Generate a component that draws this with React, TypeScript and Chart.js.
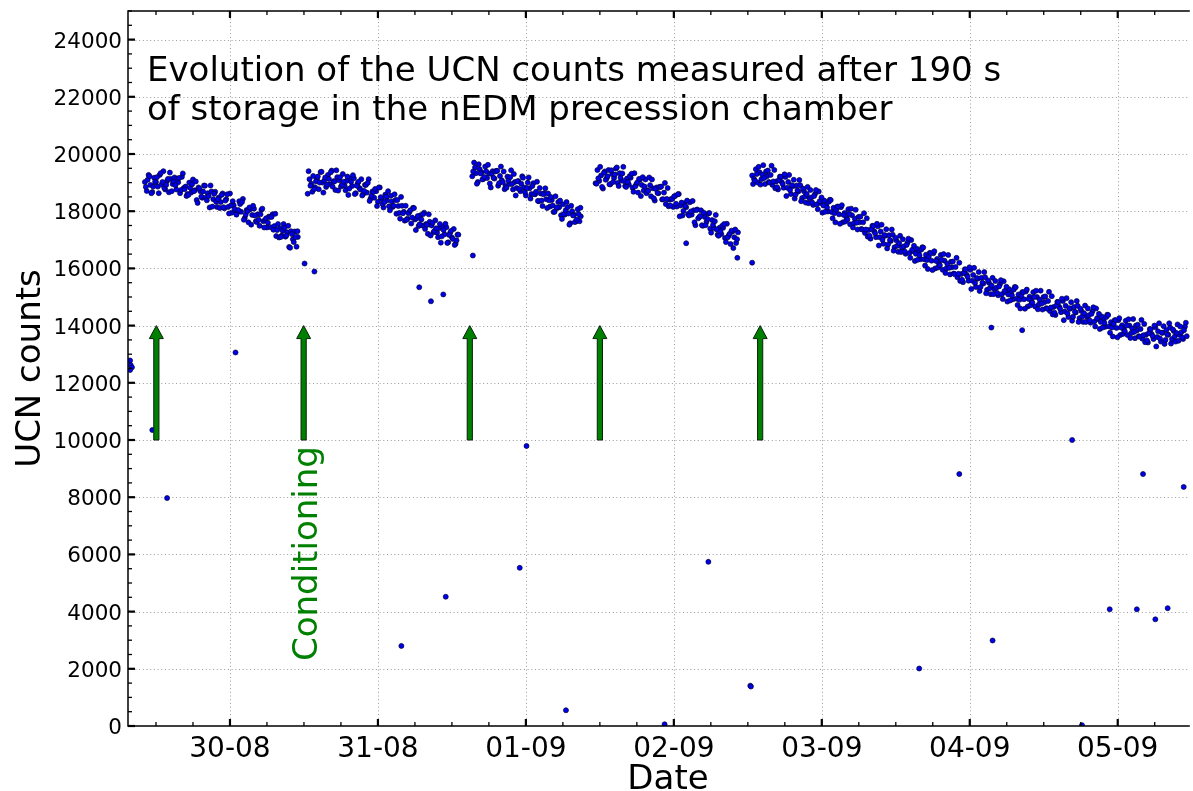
import React, { useEffect, useRef } from "react";
import { Chart, registerables } from "chart.js";

Chart.register(...registerables);

// x values are hours since 29-08 00:00
const X_MIN = 7.46;
const X_MAX = 179.69;
const Y_MIN = 0;
const Y_MAX = 25000;

const dayTickHours = [24, 48, 72, 96, 120, 144, 168];
const dayTickLabels = ["30-08", "31-08", "01-09", "02-09", "03-09", "04-09", "05-09"];
const countTicks = [0, 2000, 4000, 6000, 8000, 10000, 12000, 14000, 16000, 18000, 20000, 22000, 24000];

const arrowHours = [12.06, 35.95, 62.9, 84.0, 110.0];
const arrowFromCounts = 10000;
const arrowToCounts = 14000;

const titleLines = [
  "Evolution of the UCN counts measured after 190 s",
  "of storage in the nEDM precession chamber",
];
const xTitle = "Date";
const yTitle = "UCN counts";
const noteText = "Conditioning";
const noteHours = 35.95;

const seg1: number[][] = [
  [10.2, 19020], [10.5, 18710], [10.8, 19270], [11.1, 18920], [11.4, 18670], [11.7, 19170], [12.0, 19020], [12.3, 18860],
  [12.6, 19270], [12.9, 18930], [13.2, 19400], [13.5, 18760], [13.8, 19060], [14.1, 18660], [14.4, 19130], [14.7, 18950],
  [15.0, 19180], [15.3, 18760], [15.6, 19010], [15.9, 18630], [16.2, 19200], [16.5, 18810], [16.8, 18860], [17.1, 18600],
  [17.4, 19000], [17.7, 18650], [18.0, 19110], [18.3, 18730], [18.6, 18390], [18.9, 18830], [19.2, 18700], [19.5, 18470],
  [19.8, 18900], [20.1, 18480], [20.4, 18630], [20.7, 18130], [21.0, 18690], [21.3, 18420], [21.6, 18680], [21.9, 18150],
  [22.2, 18480], [22.5, 18320], [22.8, 18620], [23.1, 18100], [23.4, 18420], [23.7, 18150], [24.0, 18620], [24.3, 17950],
  [24.6, 18210], [24.9, 18000], [25.2, 17960], [25.5, 18350], [25.8, 17980], [26.1, 18430], [26.4, 17760], [26.7, 18040],
  [27.0, 17610], [27.3, 18070], [27.6, 17870], [27.9, 18090], [28.2, 17650], [28.5, 17890], [28.8, 17490], [29.1, 18050],
  [29.4, 17650], [29.7, 17690], [30.0, 17430], [30.3, 17810], [30.6, 17440], [30.9, 17890], [31.2, 17480], [31.5, 17130],
  [31.8, 17550], [32.1, 17400], [32.4, 17150], [32.7, 17550], [33.0, 17110], [33.3, 17260], [33.6, 16750], [33.9, 17300],
  [34.2, 17020], [34.5, 17290], [34.8, 16760], [35.0, 17100],
];
const seg1b: number[][] = [
  [10.35, 18850], [10.65, 19100], [10.95, 19220], [11.25, 18630], [11.55, 18860], [11.85, 19030], [12.15, 19190], [12.45, 18630],
  [12.75, 19330], [13.05, 19020], [13.35, 18810], [13.65, 18920], [13.95, 19130], [14.25, 19350], [14.55, 18700], [14.85, 19040],
  [15.15, 18910], [15.45, 19140], [15.75, 19160], [16.05, 18740], [16.35, 19320], [16.65, 18770], [16.95, 18530], [17.25, 18570],
  [17.55, 18820], [17.85, 18940], [18.15, 18700], [18.45, 19040], [18.75, 18290], [19.05, 18790], [19.35, 18510], [19.65, 18690],
  [19.95, 18890], [20.25, 18380], [20.55, 18530], [20.85, 18900], [21.15, 18160], [21.45, 18610], [21.75, 18330], [22.05, 18420],
  [22.35, 18110], [22.65, 18570], [22.95, 18140], [23.25, 18370], [23.55, 18590], [23.85, 17920], [24.15, 18200], [24.45, 18350],
  [24.75, 18080], [25.05, 17880], [25.35, 18040], [25.65, 18250], [25.95, 18320], [26.25, 17700], [26.55, 17880], [26.85, 18000],
  [27.15, 18130], [27.45, 17530], [27.75, 18190], [28.05, 17850], [28.35, 17620], [28.65, 17700], [28.95, 17890], [29.25, 18090],
  [29.55, 17430], [29.85, 17750], [30.15, 17600], [30.45, 17800], [30.75, 17800], [31.05, 17350], [31.35, 17910], [31.65, 17340],
  [31.95, 17080], [32.25, 17100], [32.55, 17320], [32.85, 17420], [33.15, 17150], [33.45, 17490], [33.75, 16720], [34.05, 17200],
  [34.35, 16920], [34.65, 17100], [34.95, 17300],
];

const seg2: number[][] = [
  [36.6, 18610], [36.9, 19120], [37.2, 18960], [37.5, 19230], [37.8, 18840], [38.1, 19120], [38.4, 18770], [38.7, 19370],
  [39.0, 19000], [39.3, 19070], [39.6, 18850], [39.9, 19270], [40.2, 18940], [40.5, 19420], [40.8, 19050], [41.1, 18740],
  [41.4, 19190], [41.7, 19080], [42.0, 18860], [42.3, 19300], [42.6, 18890], [42.9, 19060], [43.2, 18570], [43.5, 19140],
  [43.8, 18880], [44.1, 19150], [44.4, 18630], [44.7, 18970], [45.0, 18810], [45.3, 19120], [45.6, 18600], [45.9, 18920],
  [46.2, 18650], [46.5, 19120], [46.8, 18440], [47.1, 18690], [47.4, 18470], [47.7, 18700], [48.0, 18330], [48.3, 18830],
  [48.6, 18430], [48.9, 18130], [49.2, 18580], [49.5, 18380], [49.8, 18170], [50.1, 18540], [50.4, 18150], [50.7, 18590],
  [51.0, 17910], [51.3, 18180], [51.6, 17740], [51.9, 18190], [52.2, 17980], [52.5, 18190], [52.8, 17740], [53.1, 17970],
  [53.4, 17570], [53.7, 18120], [54.0, 17710], [54.3, 17750], [54.6, 17480], [54.9, 17860], [55.2, 17500], [55.5, 17950],
  [55.8, 17550], [56.1, 17210], [56.4, 17630], [56.7, 17500], [57.0, 17260], [57.3, 17680], [57.6, 17250], [57.9, 17400],
  [58.2, 16900], [58.5, 17460], [58.8, 17190], [59.1, 17440], [59.4, 16910], [59.7, 17240], [60.0, 17080], [60.3, 17380],
  [60.6, 16860], [60.9, 17180],
];
const seg2b: number[][] = [
  [36.75, 19400], [37.05, 18890], [37.35, 18680], [37.65, 18770], [37.95, 19050], [38.25, 19210], [38.55, 19000], [38.85, 19380],
  [39.15, 18650], [39.45, 19180], [39.75, 18930], [40.05, 19130], [40.35, 19360], [40.65, 18860], [40.95, 19040], [41.25, 19430],
  [41.55, 18720], [41.85, 19190], [42.15, 18920], [42.45, 19030], [42.75, 18730], [43.05, 19210], [43.35, 18790], [43.65, 19030],
  [43.95, 19260], [44.25, 18600], [44.55, 18890], [44.85, 19030], [45.15, 18760], [45.45, 18550], [45.75, 18710], [46.05, 18920],
  [46.35, 18990], [46.65, 18360], [46.95, 18540], [47.25, 18670], [47.55, 18780], [47.85, 18180], [48.15, 18830], [48.45, 18490],
  [48.75, 18250], [49.05, 18320], [49.35, 18510], [49.65, 18700], [49.95, 18030], [50.25, 18340], [50.55, 18190], [50.85, 18390],
  [51.15, 18390], [51.45, 17940], [51.75, 18500], [52.05, 17930], [52.35, 17670], [52.65, 17700], [52.95, 17930], [53.25, 18030],
  [53.55, 17780], [53.85, 18110], [54.15, 17340], [54.45, 17830], [54.75, 17540], [55.05, 17710], [55.35, 17900], [55.65, 17380],
  [55.95, 17520], [56.25, 17890], [56.55, 17150], [56.85, 17590], [57.15, 17310], [57.45, 17400], [57.75, 17090], [58.05, 17550],
  [58.35, 17120], [58.65, 17340], [58.95, 17560], [59.25, 16890], [59.55, 17170], [59.85, 17310], [60.15, 17030], [60.45, 16820],
  [60.75, 16980], [61.05, 17180],
];

const seg3: number[][] = [
  [63.3, 19220], [63.6, 19700], [63.9, 19330], [64.2, 19020], [64.5, 19470], [64.8, 19360], [65.1, 19130], [65.4, 19560],
  [65.7, 19160], [66.0, 19320], [66.3, 18830], [66.6, 19400], [66.9, 19140], [67.2, 19410], [67.5, 18890], [67.8, 19230],
  [68.1, 19080], [68.4, 19390], [68.7, 18880], [69.0, 19210], [69.3, 18950], [69.6, 19430], [69.9, 18760], [70.2, 19020],
  [70.5, 18810], [70.8, 19050], [71.1, 18700], [71.4, 19220], [71.7, 18830], [72.0, 18550], [72.3, 19000], [72.6, 18800],
  [72.9, 18600], [73.2, 18980], [73.5, 18590], [73.8, 19030], [74.1, 18350], [74.4, 18620], [74.7, 18180], [75.0, 18630],
  [75.3, 18420], [75.6, 18620], [75.9, 18160], [76.2, 18390], [76.5, 17970], [76.8, 18520], [77.1, 18110], [77.4, 18140],
  [77.7, 17860], [78.0, 18240], [78.3, 17880], [78.6, 18320], [78.9, 17920], [79.2, 17580], [79.5, 18000], [79.8, 17880],
  [80.1, 17640], [80.4, 18070], [80.7, 17650], [80.9, 17820],
];
const seg3b: number[][] = [
  [63.45, 19390], [63.75, 19530], [64.05, 18960], [64.35, 19640], [64.65, 19320], [64.95, 19110], [65.25, 19200], [65.55, 19400],
  [65.85, 19620], [66.15, 18970], [66.45, 19300], [66.75, 19170], [67.05, 19390], [67.35, 19410], [67.65, 18980], [67.95, 19560],
  [68.25, 19010], [68.55, 18770], [68.85, 18820], [69.15, 19070], [69.45, 19190], [69.75, 18950], [70.05, 19300], [70.35, 18550],
  [70.65, 19050], [70.95, 18780], [71.25, 18960], [71.55, 19170], [71.85, 18660], [72.15, 18810], [72.45, 19180], [72.75, 18440],
  [73.05, 18880], [73.35, 18600], [73.65, 18680], [73.95, 18360], [74.25, 18810], [74.55, 18370], [74.85, 18590], [75.15, 18800],
  [75.45, 18110], [75.75, 18380], [76.05, 18500], [76.35, 18200], [76.65, 17980], [76.95, 18130], [77.25, 18320], [77.55, 18370],
  [77.85, 17730], [78.15, 17900], [78.45, 18030], [78.75, 18140], [79.05, 17530], [79.35, 18190], [79.65, 17850], [79.95, 17620],
  [80.25, 17710], [80.55, 17900], [80.85, 18120],
];

const seg4: number[][] = [
  [83.3, 18980], [83.6, 19440], [83.9, 19060], [84.2, 19250], [84.5, 18790], [84.8, 19390], [85.1, 19150], [85.4, 19440],
  [85.7, 18940], [86.0, 19300], [86.3, 19160], [86.6, 19490], [86.9, 18990], [87.2, 19330], [87.5, 19070], [87.8, 19550],
  [88.1, 18880], [88.4, 19140], [88.7, 18930], [89.0, 19170], [89.3, 18820], [89.6, 19330], [89.9, 18940], [90.2, 18650],
  [90.5, 19100], [90.8, 18920], [91.1, 18720], [91.4, 19110], [91.7, 18730], [92.0, 19180], [92.3, 18520], [92.6, 18800],
  [92.9, 18370], [93.2, 18830], [93.5, 18630], [93.8, 18850], [94.1, 18410], [94.4, 18650], [94.7, 18250], [95.0, 18810],
  [95.3, 18400], [95.6, 18430], [95.9, 18150], [96.2, 18530], [96.5, 18160], [96.8, 18600], [97.1, 18200], [97.4, 17850],
  [97.7, 18280], [98.0, 18140], [98.3, 17900], [98.6, 18310], [98.9, 17880], [99.2, 18030], [99.5, 17510], [99.8, 18060],
  [100.1, 17780], [100.4, 18030], [100.7, 17490], [101.0, 17800], [101.3, 17630], [101.6, 17920], [101.9, 17390], [102.2, 17690],
  [102.5, 17410], [102.8, 17870], [103.1, 17180], [103.4, 17420], [103.7, 17200], [104.0, 17420], [104.3, 17060], [104.6, 17560],
  [104.9, 17150], [105.2, 16850], [105.5, 17290], [105.8, 17090], [106.1, 16890], [106.4, 17260],
];
const seg4b: number[][] = [
  [83.45, 18960], [83.75, 19150], [84.05, 19550], [84.35, 18850], [84.65, 19340], [84.95, 19100], [85.25, 19220], [85.55, 18940],
  [85.85, 19430], [86.15, 19020], [86.45, 19280], [86.75, 19530], [87.05, 18880], [87.35, 19170], [87.65, 19320], [87.95, 19050],
  [88.25, 18850], [88.55, 19020], [88.85, 19230], [89.15, 19310], [89.45, 18680], [89.75, 18870], [90.05, 19000], [90.35, 19130],
  [90.65, 18530], [90.95, 19190], [91.25, 18860], [91.55, 18630], [91.85, 18710], [92.15, 18910], [92.45, 19110], [92.75, 18450],
  [93.05, 18780], [93.35, 18640], [93.65, 18850], [93.95, 18860], [94.25, 18420], [94.55, 18990], [94.85, 18430], [95.15, 18170],
  [95.45, 18200], [95.75, 18430], [96.05, 18520], [96.35, 18260], [96.65, 18590], [96.95, 17820], [97.25, 18300], [97.55, 18010],
  [97.85, 18180], [98.15, 18370], [98.45, 17850], [98.75, 17990], [99.05, 18360], [99.35, 17610], [99.65, 18040], [99.95, 17750],
  [100.25, 17830], [100.55, 17510], [100.85, 17950], [101.15, 17510], [101.45, 17730], [101.75, 17940], [102.05, 17250], [102.35, 17520],
  [102.65, 17650], [102.95, 17360], [103.25, 17140], [103.55, 17290], [103.85, 17490], [104.15, 17550], [104.45, 16920], [104.75, 17090],
  [105.05, 17210], [105.35, 17320], [105.65, 16710], [105.95, 17360], [106.25, 17020],
];

const seg5: number[][] = [
  [108.7, 19250], [109.0, 19130], [109.3, 19470], [109.6, 19000], [109.9, 19360], [110.2, 19120], [110.5, 19610], [110.8, 18950],
  [111.1, 19220], [111.4, 19020], [111.7, 19270], [112.0, 18920], [112.3, 19440], [112.6, 19040], [112.9, 18760], [113.2, 19210],
  [113.5, 19020], [113.8, 18820], [114.1, 19200], [114.4, 18820], [114.7, 19270], [115.0, 18600], [115.3, 18870], [115.6, 18440],
  [115.9, 18900], [116.2, 18690], [116.5, 18910], [116.8, 18460], [117.1, 18700], [117.4, 18300], [117.7, 18850], [118.0, 18450],
  [118.3, 18480], [118.6, 18220], [118.9, 18600], [119.2, 18240], [119.5, 18690], [119.8, 18290], [120.1, 17950], [120.4, 18370],
  [120.7, 18230], [121.0, 17990], [121.3, 18400], [121.6, 17970], [121.9, 18120], [122.2, 17610], [122.5, 18160], [122.8, 17890],
  [123.1, 18140], [123.4, 17610], [123.7, 17940], [124.0, 17770], [124.3, 18070], [124.6, 17540], [124.9, 17860], [125.2, 17580],
  [125.5, 18050], [125.8, 17360], [126.1, 17610], [126.4, 17380], [126.7, 17610], [127.0, 17240], [127.3, 17750], [127.6, 17340],
  [127.9, 17040], [128.2, 17490], [128.5, 17300], [128.8, 17090], [129.1, 17470], [129.4, 17090], [129.7, 17530], [130.0, 16860],
  [130.3, 17140], [130.6, 16700], [130.9, 17160], [131.2, 16960], [131.5, 17180], [131.8, 16740], [132.1, 16980], [132.4, 16580],
  [132.7, 17140], [133.0, 16730], [133.3, 16770], [133.6, 16510], [133.9, 16900], [134.2, 16540], [134.5, 16990], [134.8, 16600],
  [135.1, 16260], [135.4, 16690], [135.7, 16560], [136.0, 16320], [136.3, 16740], [136.6, 16320], [136.9, 16480], [137.2, 15980],
  [137.5, 16540], [137.8, 16270], [138.1, 16530], [138.4, 16000], [138.7, 16330], [139.0, 16170], [139.3, 16470], [139.6, 15950],
  [139.9, 16270], [140.2, 16000], [140.5, 16470], [140.8, 15790], [141.1, 16040], [141.4, 15820], [141.7, 16050], [142.0, 15690],
  [142.3, 16200], [142.6, 15800], [142.9, 15520], [143.2, 15970], [143.5, 15780], [143.8, 15570], [144.1, 15950], [144.4, 15570],
  [144.7, 16020], [145.0, 15350], [145.3, 15640], [145.6, 15210], [145.9, 15670], [146.2, 15470], [146.5, 15690], [146.8, 15250],
  [147.1, 15500], [147.4, 15100], [147.7, 15670], [148.0, 15270], [148.3, 15320], [148.6, 15060], [148.9, 15450], [149.2, 15100],
  [149.5, 15550], [149.8, 15170], [150.1, 14840], [150.4, 15270], [150.7, 15150], [151.0, 14920], [151.3, 15350], [151.6, 14940],
  [151.9, 15090], [152.2, 14600], [152.5, 15170], [152.8, 14920], [153.1, 15190], [153.4, 14670], [153.7, 15010], [154.0, 14860],
  [154.3, 15170], [154.6, 14670], [154.9, 15000], [155.2, 14740], [155.5, 15220], [155.8, 14560], [156.1, 14820], [156.4, 14610],
  [156.7, 14860], [157.0, 14510], [157.3, 15030], [157.6, 14650], [157.9, 14370], [158.2, 14830], [158.5, 14660], [158.8, 14470],
  [159.1, 14860], [159.4, 14490], [159.7, 14960], [160.0, 14300], [160.3, 14590], [160.6, 14170], [160.9, 14650], [161.2, 14460],
  [161.5, 14690], [161.8, 14260], [162.1, 14510], [162.4, 14130], [162.7, 14700], [163.0, 14310], [163.3, 14360], [163.6, 14100],
  [163.9, 14500], [164.2, 14140], [164.5, 14600], [164.8, 14220], [165.1, 13880], [165.4, 14320], [165.7, 14190], [166.0, 13960],
  [166.3, 14380], [166.6, 13970], [166.9, 14120], [167.2, 13620], [167.5, 14190], [167.8, 13920], [168.1, 14190], [168.4, 13670],
  [168.7, 14010], [169.0, 13860], [169.3, 14170], [169.6, 13670], [169.9, 14000], [170.2, 13740], [170.5, 14230], [170.8, 13560],
  [171.1, 13830], [171.4, 13630], [171.7, 13880], [172.0, 13540], [172.3, 14060], [172.6, 13680], [172.9, 13410], [173.2, 13880],
  [173.5, 13710], [173.8, 13530], [174.1, 13940], [174.4, 13600], [174.7, 14080], [175.0, 13440], [175.3, 13750], [175.6, 13360],
  [175.9, 13850], [176.2, 13680], [176.5, 13930], [176.8, 13530], [177.1, 13810], [177.4, 13440], [177.7, 14040], [178.0, 13680],
  [178.3, 13760], [178.6, 13530], [178.9, 13960], [179.2, 13630],
];
const seg5b: number[][] = [
  [108.85, 18950], [109.15, 19070], [109.45, 19300], [109.75, 19550], [110.05, 18930], [110.35, 19280], [110.65, 19160], [110.95, 19390],
  [111.25, 19420], [111.55, 19000], [111.85, 19590], [112.15, 19040], [112.45, 18800], [112.75, 18840], [113.05, 19090], [113.35, 19200],
  [113.65, 18950], [113.95, 19290], [114.25, 18530], [114.55, 19020], [114.85, 18740], [115.15, 18910], [115.45, 19100], [115.75, 18580],
  [116.05, 18730], [116.35, 19090], [116.65, 18350], [116.95, 18790], [117.25, 18510], [117.55, 18600], [117.85, 18280], [118.15, 18740],
  [118.45, 18300], [118.75, 18530], [119.05, 18740], [119.35, 18070], [119.65, 18350], [119.95, 18480], [120.25, 18200], [120.55, 17980],
  [120.85, 18130], [121.15, 18330], [121.45, 18390], [121.75, 17750], [122.05, 17930], [122.35, 18050], [122.65, 18160], [122.95, 17560],
  [123.25, 18210], [123.55, 17870], [123.85, 17640], [124.15, 17710], [124.45, 17900], [124.75, 18090], [125.05, 17430], [125.35, 17740],
  [125.65, 17600], [125.95, 17800], [126.25, 17810], [126.55, 17360], [126.85, 17930], [127.15, 17360], [127.45, 17110], [127.75, 17140],
  [128.05, 17370], [128.35, 17480], [128.65, 17230], [128.95, 17560], [129.25, 16800], [129.55, 17290], [129.85, 17000], [130.15, 17170],
  [130.45, 17370], [130.75, 16840], [131.05, 16990], [131.35, 17360], [131.65, 16620], [131.95, 17070], [132.25, 16790], [132.55, 16880],
  [132.85, 16570], [133.15, 17020], [133.45, 16590], [133.75, 16820], [134.05, 17040], [134.35, 16370], [134.65, 16650], [134.95, 16790],
  [135.25, 16510], [135.55, 16300], [135.85, 16460], [136.15, 16660], [136.45, 16730], [136.75, 16100], [137.05, 16290], [137.35, 16420],
  [137.65, 16540], [137.95, 15940], [138.25, 16600], [138.55, 16260], [138.85, 16030], [139.15, 16110], [139.45, 16300], [139.75, 16500],
  [140.05, 15840], [140.35, 16160], [140.65, 16020], [140.95, 16230], [141.25, 16240], [141.55, 15800], [141.85, 16370], [142.15, 15810],
  [142.45, 15560], [142.75, 15600], [143.05, 15850], [143.35, 15960], [143.65, 15710], [143.95, 16040], [144.25, 15280], [144.55, 15770],
  [144.85, 15490], [145.15, 15660], [145.45, 15870], [145.75, 15350], [146.05, 15500], [146.35, 15870], [146.65, 15130], [146.95, 15580],
  [147.25, 15310], [147.55, 15400], [147.85, 15100], [148.15, 15560], [148.45, 15140], [148.75, 15370], [149.05, 15590], [149.35, 14930],
  [149.65, 15210], [149.95, 15360], [150.25, 15090], [150.55, 14880], [150.85, 15050], [151.15, 15260], [151.45, 15340], [151.75, 14720],
  [152.05, 14900], [152.35, 15040], [152.65, 15170], [152.95, 14590], [153.25, 15260], [153.55, 14930], [153.85, 14710], [154.15, 14800],
  [154.45, 15000], [154.75, 15220], [155.05, 14570], [155.35, 14900], [155.65, 14770], [155.95, 15000], [156.25, 15020], [156.55, 14590],
  [156.85, 15180], [157.15, 14630], [157.45, 14390], [157.75, 14450], [158.05, 14700], [158.35, 14820], [158.65, 14590], [158.95, 14940],
  [159.25, 14190], [159.55, 14690], [159.85, 14430], [160.15, 14610], [160.45, 14820], [160.75, 14310], [161.05, 14480], [161.35, 14860],
  [161.65, 14130], [161.95, 14590], [162.25, 14320], [162.55, 14430], [162.85, 14130], [163.15, 14600], [163.45, 14180], [163.75, 14410],
  [164.05, 14640], [164.35, 13970], [164.65, 14260], [164.95, 14410], [165.25, 14130], [165.55, 13930], [165.85, 14090], [166.15, 14300],
  [166.45, 14370], [166.75, 13750], [167.05, 13930], [167.35, 14060], [167.65, 14190], [167.95, 13590], [168.25, 14260], [168.55, 13930],
  [168.85, 13710], [169.15, 13800], [169.45, 14000], [169.75, 14220], [170.05, 13570], [170.35, 13900], [170.65, 13780], [170.95, 14000],
  [171.25, 14030], [171.55, 13610], [171.85, 14200], [172.15, 13660], [172.45, 13420], [172.75, 13480], [173.05, 13740], [173.35, 13870],
  [173.65, 13640], [173.95, 14000], [174.25, 13270], [174.55, 13800], [174.85, 13550], [175.15, 13750], [175.45, 13980], [175.75, 13500],
  [176.05, 13680], [176.35, 14080], [176.65, 13370], [176.95, 13860], [177.25, 13620], [177.55, 13740], [177.85, 13470], [178.15, 13970],
  [178.45, 13580], [178.75, 13840], [179.05, 14100],
];

const outliers: number[][] = [
  [7.8, 12780], [7.9, 12620], [8.1, 12540], [7.8, 12450], [11.4, 10350], [13.8, 7970], [24.9, 13060],
  [36.1, 16170], [37.7, 15890], [51.8, 2800], [54.7, 15340], [56.6, 14850], [58.6, 15090], [59.0, 4520],
  [63.4, 16450], [71.0, 5530], [72.1, 9790], [78.5, 550], [94.5, 60], [98.0, 16880], [101.6, 5740],
  [106.3, 16370], [108.4, 1410], [108.5, 1380], [108.7, 16200], [135.8, 2010], [142.3, 8810], [147.5, 13930],
  [147.7, 2990], [152.5, 13840], [160.6, 10000], [162.2, 30], [166.7, 4080], [171.1, 4080], [172.1, 8810],
  [174.1, 3730], [176.1, 4120], [178.7, 8360],
];

const FONT = '"DejaVu Sans", "Liberation Sans", sans-serif';

function drawArrow(ctx: CanvasRenderingContext2D, px: number, yBase: number, yTip: number) {
  const shaftHalf = 2.6;
  const headHalf = 7;
  const headLen = 13;
  ctx.beginPath();
  ctx.moveTo(px - shaftHalf, yBase);
  ctx.lineTo(px - shaftHalf, yTip + headLen);
  ctx.lineTo(px - headHalf, yTip + headLen);
  ctx.lineTo(px, yTip);
  ctx.lineTo(px + headHalf, yTip + headLen);
  ctx.lineTo(px + shaftHalf, yTip + headLen);
  ctx.lineTo(px + shaftHalf, yBase);
  ctx.closePath();
  ctx.fillStyle = "#008000";
  ctx.fill();
  ctx.lineWidth = 1;
  ctx.strokeStyle = "#0b220b";
  ctx.stroke();
}

const decorPlugin = {
  id: "decor",
  beforeDatasetsDraw(chart: any) {
    const { ctx, chartArea: a, scales } = chart;
    const x = scales.x;
    const y = scales.y;
    ctx.save();
    ctx.strokeStyle = "#9a9a9a";
    ctx.lineWidth = 1;
    ctx.setLineDash([1, 2.7]);
    for (const h of dayTickHours) {
      const px = Math.round(x.getPixelForValue(h)) + 0.5;
      ctx.beginPath();
      ctx.moveTo(px, a.top);
      ctx.lineTo(px, a.bottom);
      ctx.stroke();
    }
    for (const c of countTicks) {
      if (c <= Y_MIN) continue;
      const py = Math.round(y.getPixelForValue(c)) + 0.5;
      ctx.beginPath();
      ctx.moveTo(a.left, py);
      ctx.lineTo(a.right, py);
      ctx.stroke();
    }
    ctx.restore();
  },
  afterDatasetsDraw(chart: any) {
    const { ctx, chartArea: a, scales } = chart;
    const x = scales.x;
    const y = scales.y;
    ctx.save();

    for (const h of arrowHours) {
      drawArrow(ctx, x.getPixelForValue(h), y.getPixelForValue(arrowFromCounts), y.getPixelForValue(arrowToCounts));
    }

    ctx.strokeStyle = "#000";
    ctx.lineWidth = 1.5;
    ctx.beginPath();
    ctx.moveTo(a.right, a.top);
    ctx.lineTo(a.left, a.top);
    ctx.lineTo(a.left, a.bottom);
    ctx.lineTo(a.right, a.bottom);
    ctx.stroke();

    const minorStart = Math.ceil(X_MIN / 6) * 6;
    for (let h = minorStart; h <= X_MAX; h += 6) {
      const major = h % 24 === 0;
      const len = major ? 7 : 4;
      ctx.lineWidth = major ? 2.2 : 1.3;
      const px = x.getPixelForValue(h);
      ctx.beginPath();
      ctx.moveTo(px, a.bottom);
      ctx.lineTo(px, a.bottom - len);
      ctx.moveTo(px, a.top);
      ctx.lineTo(px, a.top + len);
      ctx.stroke();
    }
    for (let c = Y_MIN; c <= Y_MAX; c += 500) {
      const major = c % 2000 === 0;
      const len = major ? 7 : 4;
      ctx.lineWidth = major ? 2.2 : 1.3;
      const py = y.getPixelForValue(c);
      ctx.beginPath();
      ctx.moveTo(a.left, py);
      ctx.lineTo(a.left + len, py);
      ctx.stroke();
    }

    ctx.fillStyle = "#000";
    ctx.textBaseline = "alphabetic";
    ctx.font = `21.5px ${FONT}`;
    ctx.textAlign = "right";
    for (const c of countTicks) {
      ctx.fillText(String(c), a.left - 6, y.getPixelForValue(c) + 8);
    }
    ctx.font = `28px ${FONT}`;
    ctx.textAlign = "center";
    dayTickHours.forEach((h, i) => {
      ctx.fillText(dayTickLabels[i], x.getPixelForValue(h), 757);
    });

    ctx.font = `34px ${FONT}`;
    ctx.fillText(xTitle, 668, 789);
    ctx.save();
    ctx.translate(40, 368.5);
    ctx.rotate(-Math.PI / 2);
    ctx.textAlign = "center";
    ctx.fillText(yTitle, 0, 0);
    ctx.restore();

    ctx.textAlign = "left";
    ctx.font = `34px ${FONT}`;
    ctx.fillText(titleLines[0], 147, 81);
    ctx.fillText(titleLines[1], 147, 120);

    ctx.save();
    ctx.fillStyle = "#008000";
    ctx.translate(x.getPixelForValue(noteHours) + 13, 661);
    ctx.rotate(-Math.PI / 2);
    ctx.textAlign = "left";
    ctx.fillText(noteText, 0, 0);
    ctx.restore();

    ctx.restore();
  },
};

export default function App() {
  const ref = useRef<HTMLCanvasElement>(null);
  useEffect(() => {
    const toPts = (arr: number[][]) => arr.map(([h, c]) => ({ x: h, y: c }));
    const all = [seg1, seg1b, seg2, seg2b, seg3, seg3b, seg4, seg4b, seg5, seg5b, outliers];
    const chart = new Chart(ref.current as HTMLCanvasElement, {
      type: "scatter",
      data: {
        datasets: [
          {
            label: "UCN counts",
            data: all.flatMap(toPts),
            backgroundColor: "#0000ee",
            borderColor: "#000033",
            borderWidth: 0.7,
            pointRadius: 2.5,
            pointHoverRadius: 2.5,
          },
        ],
      },
      options: {
        animation: false,
        responsive: false,
        devicePixelRatio: 1,
        events: [],
        layout: { padding: { left: 128, top: 11, right: 0, bottom: 65 } },
        plugins: { legend: { display: false }, tooltip: { enabled: false } },
        scales: {
          x: { type: "linear", min: X_MIN, max: X_MAX, display: false },
          y: { type: "linear", min: Y_MIN, max: Y_MAX, display: false },
        },
      },
      plugins: [decorPlugin],
    });
    return () => chart.destroy();
  }, []);
  return (
    <div style={{ position: "absolute", left: 0, top: 0, width: 1193, height: 791, background: "#fff" }}>
      <canvas ref={ref} width={1193} height={791} style={{ display: "block" }} />
    </div>
  );
}
